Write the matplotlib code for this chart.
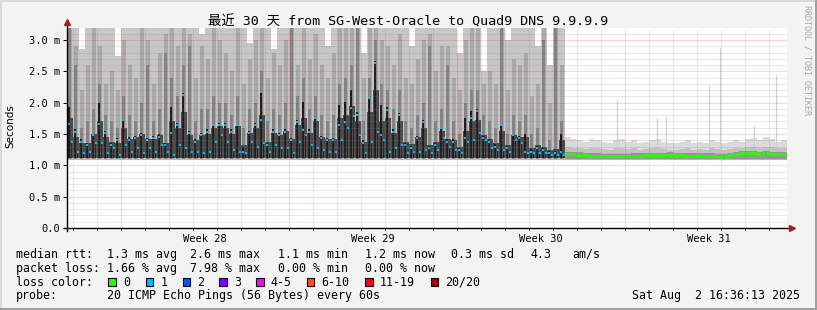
import numpy as np
import matplotlib
matplotlib.use("Agg")
import matplotlib.pyplot as plt
from matplotlib.patches import Rectangle

W, H = 817, 310
MONO = ["DejaVu Sans Mono", "Noto Sans CJK SC"]

# ---- data: columns of 6 hours, 30 days span -------------------------------
# segment 1 (days 0 .. 20.75): heavy smoke, loss 1 median dots
# median, two samples per column (3 h each)
med1 = [1.66, 1.38, 1.54, 1.22, 1.38, 1.19, 1.32, 1.22, 1.48, 1.35, 1.66, 1.35,
        1.51, 1.19, 1.32, 1.27, 1.40, 1.16, 1.72, 1.32, 1.40, 1.22, 1.43, 1.27,
        1.48, 1.19, 1.40, 1.27, 1.43, 1.22, 1.46, 1.32, 1.32, 1.22, 1.51, 1.16,
        1.64, 1.32, 2.12, 1.27, 1.51, 1.22, 1.38, 1.22, 1.48, 1.19, 1.54, 1.22,
        1.64, 1.38, 1.64, 1.48, 1.64, 1.38, 1.54, 1.25,
        1.64, 1.22, 1.22, 1.19, 1.51, 1.38, 1.64, 1.30, 1.72, 1.35, 1.32, 1.22,
        1.54, 1.32, 1.48, 1.27, 1.54, 1.27, 1.40, 1.19, 1.69, 1.38, 1.56, 1.48,
        1.54, 1.32, 1.75, 1.27, 1.43, 1.25, 1.40, 1.22, 1.40, 1.22, 1.64, 1.40,
        1.69, 1.59, 1.91, 1.78, 1.80, 1.48, 1.35, 1.19, 2.07, 1.38, 2.64, 1.54,
        1.48, 1.40, 1.88, 1.22, 1.54, 1.27, 1.80, 1.32,
        1.32, 1.19, 1.27, 1.22, 1.43, 1.22, 1.69, 1.24, 1.27, 1.19, 1.32, 1.24,
        1.59, 1.43, 1.38, 1.30, 1.38, 1.24, 1.24, 1.19, 1.43, 1.38, 1.75, 1.40,
        1.86, 1.51, 1.43, 1.40, 1.38, 1.27, 1.30, 1.24, 1.64, 1.24, 1.27, 1.22,
        1.48, 1.40, 1.43, 1.35, 1.22, 1.19, 1.22, 1.19, 1.27, 1.19, 1.24, 1.19,
        1.19, 1.17, 1.19, 1.17, 1.22, 1.17]
# top of the dark core per column
core1 = [1.93, 1.58, 1.42, 1.36, 1.50, 1.99, 1.55, 1.36, 1.44, 1.74, 1.45, 1.47,
         1.52, 1.44, 1.47, 1.50, 1.36, 1.93, 1.68, 2.15, 1.55, 1.42, 1.52, 1.58,
         1.66, 1.68, 1.68, 1.58,
         1.66, 1.30, 1.55, 1.68, 2.15, 1.36, 1.58, 1.52, 1.58, 1.44, 1.72, 2.01,
         1.58, 1.77, 1.47, 1.44, 1.44, 1.96, 2.01, 2.20, 1.85, 1.40, 2.09, 2.67,
         1.96, 1.93, 1.58, 1.83,
         1.36, 1.31, 1.47, 1.72, 1.31, 1.36, 1.60, 1.42, 1.42, 1.28, 1.75, 1.86,
         1.90, 1.47, 1.42, 1.34, 1.66, 1.31, 1.50, 1.47, 1.50, 1.26, 1.31, 1.28,
         1.23, 1.23, 1.50]
# smoke band tops, darkest (q4) to lightest (max)
q4_1 = [1.75, 1.45, 1.35, 1.35, 1.50, 1.70, 1.45, 1.38, 1.35, 1.60, 1.42, 1.45,
        1.50, 1.42, 1.42, 1.48, 1.35, 1.70, 1.60, 1.85, 1.48, 1.40, 1.48, 1.50,
        1.60, 1.62, 1.60, 1.50,
        1.62, 1.32, 1.52, 1.60, 1.80, 1.38, 1.52, 1.48, 1.55, 1.42, 1.65, 1.75,
        1.52, 1.70, 1.45, 1.42, 1.42, 1.75, 1.80, 1.95, 1.70, 1.38, 1.85, 2.20,
        1.70, 1.75, 1.52, 1.70,
        1.38, 1.34, 1.45, 1.60, 1.32, 1.38, 1.55, 1.42, 1.40, 1.30, 1.55, 1.70,
        1.72, 1.48, 1.42, 1.35, 1.55, 1.32, 1.48, 1.45, 1.45, 1.28, 1.32, 1.30,
        1.25, 1.26, 1.40]
q3_1 = [3.3, 2.6, 1.6, 1.7, 1.9, 2.3, 1.8, 1.7, 1.6, 2.1, 1.8, 1.7, 2.0, 2.6,
        1.7, 1.9, 2.8, 2.4, 2.1, 2.6, 2.9, 1.7, 1.9, 1.9, 2.1, 2.0, 2.0, 1.8,
        2.1, 1.6, 1.9, 2.0, 2.5, 1.7, 1.9, 1.8, 2.0, 3.3, 2.1, 2.4, 1.9, 2.1,
        1.8, 1.7, 1.8, 2.3, 2.4, 2.6, 3.3, 1.7, 2.4, 3.0, 2.3, 2.2, 1.9, 2.2,
        1.7, 1.6, 1.8, 2.0, 2.9, 1.7, 1.9, 2.6, 1.7, 1.5, 2.0, 2.2, 2.2, 1.8,
        1.7, 1.6, 3.3, 1.5, 1.8, 1.7, 1.8, 1.5, 1.6, 3.0, 1.4, 3.3, 1.7]
q2_1 = [3.3, 2.9, 2.2, 2.6, 3.3, 2.9, 2.3, 2.5, 2.2, 3.0, 2.6, 2.4, 3.3, 3.0,
        2.3, 2.8, 3.1, 3.3, 2.9, 3.3, 3.1, 2.4, 2.9, 2.7, 3.3, 3.0, 2.8, 2.5,
        3.3, 2.3, 2.7, 3.0, 3.3, 2.4, 2.8, 2.6, 3.0, 3.3, 2.6, 3.3, 2.7, 3.1,
        2.6, 2.4, 2.8, 3.3, 3.3, 3.3, 3.3, 2.4, 3.3, 3.3, 3.0, 2.9, 2.6, 3.1,
        2.4, 2.3, 2.7, 3.0, 3.1, 2.5, 2.9, 2.9, 2.4, 2.2, 3.0, 3.3, 3.3, 2.3,
        2.5, 2.3, 3.3, 2.2, 2.7, 2.6, 2.8, 2.1, 2.3, 3.2, 2.0, 3.3, 2.6]
max1 = [3.3, 3.3, 2.85, 3.3, 3.3, 3.3, 3.3, 3.3, 2.75, 3.3, 3.3, 3.3, 3.3, 3.3,
        3.3, 3.3, 3.3, 3.3, 3.3, 3.3, 3.3, 3.3, 3.1, 3.3, 3.3, 3.3, 3.3, 3.3,
        3.3, 3.3, 2.95, 3.3, 3.3, 3.3, 2.86, 3.3, 3.3, 3.3, 3.3, 3.3, 3.3, 3.3,
        3.3, 2.9, 3.3, 3.3, 3.3, 3.3, 3.3, 2.8, 3.3, 3.3, 3.3, 3.3, 3.3, 3.3,
        3.3, 2.9, 3.3, 3.3, 3.3, 3.3, 3.3, 3.3, 3.3, 2.8, 3.3, 3.3, 3.3, 2.5,
        3.3, 3.3, 3.3, 3.0, 3.3, 3.3, 3.3, 3.3, 2.9, 3.3, 2.6, 3.3, 3.3]

# segment 2 (days 20.75 .. 30): light smoke, loss 0 median
med2 = [1.18, 1.18, 1.17, 1.16, 1.155, 1.155, 1.15, 1.15, 1.145, 1.15, 1.15,
        1.155, 1.155, 1.16, 1.16, 1.16, 1.165, 1.17, 1.165, 1.16, 1.155, 1.155,
        1.16, 1.155, 1.155, 1.15, 1.14, 1.16, 1.185, 1.19, 1.19, 1.19, 1.185,
        1.195, 1.18, 1.18, 1.18]
loss2 = [0, 0, 0, 0, 0, 0, 0, 0, 0, 0, 0, 0, 0, 0, 0, 0, 0, 0, 0, 0, 0, 0,
         0, 0, 0, 0, 1, 0, 0, 0, 0, 0, 0, 1, 0, 0, 0]
q2_2 = [1.30, 1.28, 1.27, 1.26, 1.28, 1.27, 1.26, 1.25, 1.27, 1.28, 1.26, 1.27,
        1.25, 1.26, 1.27, 1.28, 1.26, 1.25, 1.25, 1.26, 1.27, 1.25, 1.26, 1.25,
        1.27, 1.26, 1.24, 1.26, 1.28, 1.27, 1.29, 1.30, 1.28, 1.30, 1.29, 1.27,
        1.28]
max2 = [1.45, 1.42, 1.40, 1.38, 1.42, 1.40, 1.38, 1.36, 1.40, 1.42, 1.38, 1.40,
        1.36, 1.38, 1.40, 1.42, 1.38, 1.36, 1.35, 1.38, 1.40, 1.36, 1.38, 1.36,
        1.40, 1.38, 1.35, 1.37, 1.40, 1.38, 1.42, 1.44, 1.40, 1.45, 1.42, 1.38,
        1.40]
# single hourly outliers in segment 2 (day, value)
spike_day = [22.92, 24.58, 24.96, 26.75, 27.21, 28.63, 29.56]
spike_top = [2.04, 1.75, 1.78, 2.28, 2.87, 1.64, 2.44]

floor1 = 1.10
floor2 = 1.08

week_labels = ["Week 28", "Week 29", "Week 30", "Week 31"]
week_start = [2.25, 9.25, 16.25, 23.25]

legend_rows = [
    ["median rtt:", "1.3 ms avg", "2.6 ms max", "1.1 ms min", "1.2 ms now",
     "0.3 ms sd", "4.3", "am/s"],
    ["packet loss:", "1.66 % avg", "7.98 % max", "0.00 % min", "0.00 % now"],
]
legend_x = [16, 107.3, 190, 278.3, 365.3, 451, 530, 572.3]
loss_labels = ["0", "1", "2", "3", "4-5", "6-10", "11-19", "20/20"]
loss_colors = ["#26ff00", "#00b8ff", "#0059ff", "#7e00ff", "#ff00ff",
               "#ff5500", "#ff0000", "#a10000"]
loss_box_x = [108.3, 145.7, 182.7, 219.3, 256, 306.7, 365, 430.7]

# ---- figure -----------------------------------------------------------------
step = 0.25
t1 = np.arange(len(core1)) * step
t2 = t1[-1] + step + np.arange(len(med2)) * step

fig = plt.figure(figsize=(W / 100, H / 100), dpi=100)
fig.patch.set_facecolor("#f3f3f3")
ax = fig.add_axes([67 / W, (H - 228) / H, 720 / W, 200.5 / H])
ax.set_xlim(0, 30)
ax.set_ylim(0, 3.2)
ax.set_facecolor("white")
for s in ax.spines.values():
    s.set_visible(False)


def band(t, top, lo, color, z):
    x = np.append(t, t[-1] + step)
    y = np.append(top, top[-1])
    ax.fill_between(x, lo, y, step="post", color=color, lw=0, zorder=z)


def streaks(t, top, lo, color, z, width, offset):
    top = np.array(top)
    ax.bar(t + offset, top - lo, bottom=lo, width=width, align="edge",
           color=color, lw=0, zorder=z)


# segment 1 smoke: full bands plus narrower streaks for the rrdtool texture
band(t1, max1, floor1 - 0.02, "#c6c6c6", 2)
streaks(t1, q2_1, floor1, "#a9a9a9", 3, 0.19, 0.03)
streaks(t1, q3_1, floor1, "#848484", 4, 0.12, 0.05)
band(t1, q4_1, floor1 + 0.01, "#4a4a4a", 5)
streaks(t1, core1, floor1 + 0.02, "#1c1c1c", 6, 0.08, 0.06)
tm1 = np.arange(len(med1)) * step / 2
streaks(tm1, med1, floor1 + 0.02, "#262626", 6, 0.06, 0.03)

# segment 2 smoke
band(t2, max2, floor2, "#dadada", 2)
ax.vlines(spike_day, floor2, spike_top, color="#d0d0d0", lw=0.9, zorder=2)
band(t2, q2_2, floor2 + 0.01, "#c2c2c2", 3)
m2 = np.array(med2)
band(t2, m2 + 0.035, floor2 + 0.02, "#969696", 4)

# grid (on top of the smoke, like rrdtool)
minor_c = (0.5, 0.5, 0.5, 0.37)
major_c = (1, 0, 0, 0.33)
dots = (0, (1, 1))
for v in np.arange(0.1, 3.2, 0.1):
    if abs(v / 0.5 - round(v / 0.5)) > 1e-6:
        ax.axhline(v, color=minor_c, lw=0.72, ls=dots, zorder=7)
for v in np.arange(0.5, 3.2, 0.5):
    ax.axhline(v, color=major_c, lw=0.72, ls=dots, zorder=7)
for d in np.arange(0.25, 30, 1.0):
    if d not in week_start:
        ax.axvline(d, color=minor_c, lw=0.72, ls=dots, zorder=7)
for d in week_start:
    ax.axvline(d, color=major_c, lw=0.72, ls=dots, zorder=7)

# median
ax.scatter(tm1 + step / 4, med1, marker="s", s=3.0, color="#00b8ff", lw=0,
           zorder=9)
x2 = np.append(t2, t2[-1] + step)
ax.step(x2, np.append(m2, m2[-1]), where="post", color="#26ff00", lw=1.9,
        zorder=8)
lm = np.array(loss2) == 1
ax.scatter(t2[lm] + step / 2, m2[lm] - 0.02, marker="s", s=4,
           color=loss_colors[1], lw=0, zorder=9)

# axes with arrows
ax.plot([-0.12, 30.15], [0, 0], color="black", lw=1, clip_on=False, zorder=10)
ax.plot([30.2], [0], marker=">", ms=5, color="#a02020", clip_on=False, zorder=10)
ax.plot([0, 0], [-0.05, 3.25], color="black", lw=1, clip_on=False, zorder=10)
ax.plot([0], [3.28], marker="^", ms=5, color="#a02020", clip_on=False, zorder=10)

# ticks
ax.set_yticks(np.arange(0, 3.01, 0.5))
ax.set_yticklabels(["0.0"] + [f"{v:.1f} m" for v in np.arange(0.5, 3.01, 0.5)])
ax.set_xticks([w + 3.5 for w in week_start])
ax.set_xticklabels(week_labels)
ax.set_xticks(np.arange(0.25, 30, 1.0), minor=True)
ax.tick_params(axis="y", which="major", length=3, width=0.7, pad=2,
               labelsize=7.5, direction="out")
ax.tick_params(axis="x", which="major", length=0, pad=4, labelsize=7.5)
ax.tick_params(axis="x", which="minor", length=1.5, width=0.7, direction="out")
for lab in ax.get_xticklabels() + ax.get_yticklabels():
    lab.set_family(MONO)

# texts
fig.text(408 / W, 1 - 21.5 / H, "最近 30 天 from SG-West-Oracle to Quad9 DNS 9.9.9.9",
         ha="center", va="center", fontsize=9.6, family=MONO)
fig.text(10 / W, 1 - 126 / H, "Seconds", rotation=90, ha="center",
         va="center", fontsize=7.5, family="DejaVu Sans")
fig.text(807 / W, 1 - 60 / H, "RRDTOOL / TOBI OETIKER", rotation=270,
         ha="center", va="center", fontsize=6, color="#a8a8a8", family=MONO)

row_y = [254.3, 268.3, 282.3, 296]
for r, items in enumerate(legend_rows):
    for x, s in zip(legend_x, items):
        fig.text(x / W, 1 - row_y[r] / H, s, ha="left", va="center",
                 fontsize=8.4, family=MONO)
fig.text(16 / W, 1 - row_y[2] / H, "loss color:", ha="left", va="center",
         fontsize=8.4, family=MONO)
for bx, c, s in zip(loss_box_x, loss_colors, loss_labels):
    fig.patches.append(Rectangle((bx / W, 1 - 286 / H), 7.5 / W, 8 / H,
                                 transform=fig.transFigure, facecolor=c,
                                 edgecolor="black", lw=0.8))
    fig.text((bx + 14.7) / W, 1 - row_y[2] / H, s, ha="left", va="center",
             fontsize=8.4, family=MONO)
fig.text(16 / W, 1 - row_y[3] / H, "probe:", ha="left", va="center",
         fontsize=8.4, family=MONO)
fig.text(107.3 / W, 1 - row_y[3] / H, "20 ICMP Echo Pings (56 Bytes) every 60s",
         ha="left", va="center", fontsize=8.4, family=MONO)
fig.text(800 / W, 1 - row_y[3] / H, "Sat Aug  2 16:36:13 2025", ha="right",
         va="center", fontsize=8.4, family=MONO)

# 3d frame
fig.patches.append(Rectangle((0, 0), 1, 2 / H, transform=fig.transFigure,
                             color="#a0a0a0", lw=0))
fig.patches.append(Rectangle((1 - 2 / W, 0), 2 / W, 1, transform=fig.transFigure,
                             color="#a0a0a0", lw=0))
fig.patches.append(Rectangle((0, 1 - 2 / H), 1 - 2 / W, 2 / H,
                             transform=fig.transFigure, color="#d8d8d8", lw=0))
fig.patches.append(Rectangle((0, 2 / H), 2 / W, 1 - 4 / H,
                             transform=fig.transFigure, color="#d8d8d8", lw=0))

fig.savefig("out.png", dpi=100, facecolor=fig.get_facecolor())
